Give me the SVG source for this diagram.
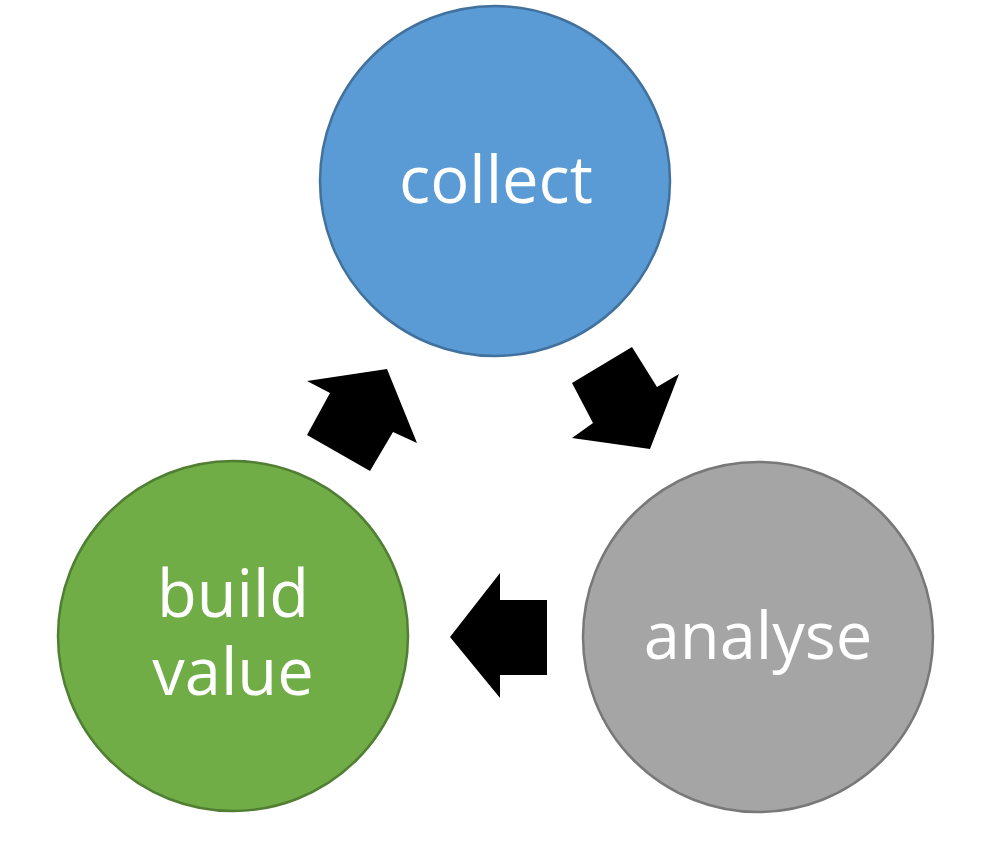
<svg xmlns="http://www.w3.org/2000/svg" width="990" height="855" viewBox="0 0 990 855">
<style>
.lbl{font-family:"Open Sans","Liberation Sans",sans-serif;font-size:65px;fill:#ffffff;text-anchor:middle}
.node{stroke-width:2.5}
.arrow{fill:#000000}
</style>
<rect width="990" height="855" fill="#ffffff"/>
<g id="collect">
<circle class="node" cx="495" cy="181" r="175" fill="#5B9BD5" stroke="#41719C"/>
<text class="lbl" x="496" y="203">collect</text>
</g>
<g id="analyse">
<circle class="node" cx="758" cy="637" r="175" fill="#A5A5A5" stroke="#787878"/>
<text class="lbl" x="758" y="659">analyse</text>
</g>
<g id="build-value">
<circle class="node" cx="233" cy="636" r="175" fill="#70AD47" stroke="#507E32"/>
<text class="lbl" x="233" y="617">build</text>
<text class="lbl" x="233" y="695">value</text>
</g>
<g id="connectors">
<polygon class="arrow" points="572,383 632,347 657,387 679,374 650,449 572,438 593,423"/>
<polygon class="arrow" points="450,637 500,573 500,600 547,600 547,675 500,675 500,698"/>
<polygon class="arrow" points="307,381 387,369 417,443 393,432 370,471 307,435 330,393"/>
</g>
</svg>
